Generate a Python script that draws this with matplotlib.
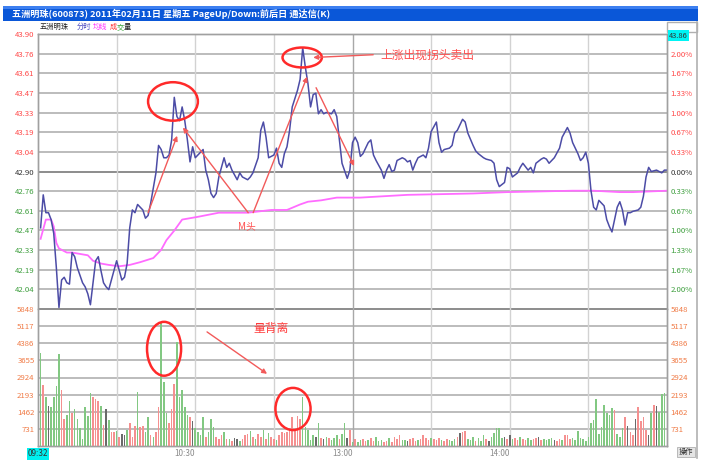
import matplotlib.pyplot as plt
from matplotlib.patches import Ellipse, Rectangle
from matplotlib.lines import Line2D

plt.rcParams['font.family'] = ['Noto Sans CJK SC', 'DejaVu Sans']

# ---- data ----
title = "五洲明珠(600873) 2011年02月11日 星期五 PageUp/Down:前后日 通达信(K)"
prev_close = 42.90

price_labels = ["42.04", "42.19", "42.33", "42.47", "42.61", "42.76", "42.90",
                "43.04", "43.19", "43.33", "43.47", "43.61", "43.76", "43.90"]
pct_labels = ["2.00%", "1.67%", "1.33%", "1.00%", "0.67%", "0.33%", "0.00%",
              "0.33%", "0.67%", "1.00%", "1.33%", "1.67%", "2.00%"]
vol_labels = [731, 1462, 2193, 2924, 3655, 4386, 5117, 5848]
time_ticks = [60, 120, 180]
time_labels = ["10:30", "13:00", "14:00"]

# minute index (0 = 9:30, 120 = 11:30/13:00, 240 = 15:00)
price_t = [1, 2, 3, 4, 5, 6, 7, 8, 9, 10, 11, 12, 13, 14, 15, 17, 18, 19, 20, 21,
           22, 23, 24, 25, 26, 27, 29, 30, 31, 32, 33, 34, 35, 36, 37, 38, 40, 41, 42, 43,
           45, 46, 47, 48, 49, 50, 51, 52, 53, 54, 55, 56, 57, 58, 59, 60, 61, 63, 64, 65,
           66, 67, 68, 69, 71, 72, 73, 74, 76, 77, 78, 80, 81, 82, 84, 85, 86, 87, 88, 90,
           91, 92, 93, 94, 95, 96, 97, 99, 100, 101, 102, 103, 104, 105, 106, 107, 108, 109, 110, 112,
           113, 114, 115, 116, 118, 119, 120,
           121, 122, 123, 124, 126, 127, 128, 129, 131, 132, 133, 134, 135, 136, 137, 139, 140, 141, 142, 143,
           144, 145, 147, 148, 149, 150, 152, 153, 154, 155, 157, 158, 159, 160, 162, 163, 164, 166, 167, 168,
           170, 171, 173, 174, 175, 176, 178, 179, 180, 181, 183, 184, 185, 187, 188, 189, 190, 192, 193, 194,
           195, 197, 199, 200, 202, 203, 204, 206, 207, 208, 209, 210, 211, 212, 213, 214, 216, 217, 218, 219,
           220, 221, 222, 223, 224, 225, 226, 227, 229, 230, 231, 232, 233, 234, 236, 237, 238, 239, 240]
price_v = [42.49, 42.73, 42.60, 42.60, 42.55, 42.45, 42.20, 41.91, 42.11, 42.13, 42.09, 42.08, 42.31, 42.28, 42.20, 42.09, 42.06, 42.01, 41.93, 42.09,
           42.25, 42.28, 42.18, 42.09, 42.06, 42.04, 42.18, 42.25, 42.18, 42.11, 42.13, 42.23, 42.49, 42.62, 42.60, 42.66, 42.62, 42.56, 42.58, 42.67,
           42.89, 43.09, 43.06, 43.00, 43.00, 43.02, 43.13, 43.44, 43.30, 43.27, 43.37, 43.27, 43.13, 42.97, 43.08, 43.00, 43.02, 43.06, 42.91, 42.84,
           42.74, 42.71, 42.74, 42.86, 43.00, 42.93, 42.96, 42.91, 42.84, 42.89, 42.86, 42.84, 42.86, 42.89, 43.00, 43.20, 43.26, 43.15, 43.00, 43.02,
           43.07, 42.96, 42.93, 43.03, 43.08, 43.20, 43.37, 43.49, 43.57, 43.80, 43.66, 43.54, 43.37, 43.46, 43.47, 43.32, 43.35, 43.32, 43.33, 43.32,
           43.35, 43.30, 43.13, 42.96, 42.85, 42.91, 43.11,
           43.15, 43.11, 43.01, 43.03, 43.11, 43.13, 43.02, 42.98, 42.91, 42.85, 42.91, 42.95, 42.90, 42.91, 42.98, 43.00, 42.99, 42.97, 42.98, 42.91,
           42.96, 43.00, 43.02, 43.00, 43.07, 43.19, 43.26, 43.11, 43.04, 43.06, 43.07, 43.09, 43.18, 43.20, 43.28, 43.26, 43.18, 43.09, 43.05, 43.03,
           43.00, 42.99, 42.98, 42.96, 42.84, 42.79, 42.82, 42.93, 42.92, 42.86, 42.89, 42.93, 42.96, 42.91, 42.93, 42.89, 42.96, 42.99, 43.00, 42.99,
           42.96, 43.00, 43.07, 43.15, 43.22, 43.18, 43.11, 43.03, 42.98, 43.00, 43.04, 42.96, 42.76, 42.64, 42.62, 42.69, 42.65, 42.55, 42.50, 42.46,
           42.55, 42.64, 42.68, 42.62, 42.51, 42.60, 42.60, 42.61, 42.62, 42.64, 42.72, 42.86, 42.93, 42.90, 42.91, 42.90, 42.89, 42.91, 42.91]

avg_t = [1, 3, 5, 6, 7, 8, 11, 13, 16, 19, 21, 24, 27, 31, 35, 39, 44, 47, 49, 52,
         55, 61, 69, 80, 89, 95, 100, 103, 108, 114, 123, 141, 166, 179, 204, 212, 222, 227, 240]
avg_v = [42.41, 42.55, 42.55, 42.50, 42.38, 42.34, 42.31, 42.31, 42.30, 42.29,
         42.25, 42.23, 42.22, 42.21, 42.22, 42.24, 42.27, 42.33, 42.40, 42.47,
         42.55, 42.57, 42.60, 42.60, 42.62, 42.62, 42.66, 42.68, 42.69, 42.71,
         42.71, 42.73, 42.74, 42.75, 42.76, 42.76, 42.75, 42.75, 42.76]

# one bar per minute, starting 9:31
vol = [3990, 2600, 2100, 1720, 1680, 2080, 2560, 3930, 2390, 1140,
       1330, 1900, 1400, 1570, 1140, 760, 300, 1680, 1280, 2250,
       2080, 2020, 1900, 1700, 900, 1570, 1100, 600, 600, 650,
       400, 500, 450, 700, 1000, 400, 850, 2320, 830, 850,
       600, 1250, 450, 400, 600, 1680, 5260, 2750, 1400, 1000,
       1560, 2650, 4460, 2110, 2390, 1680, 1330, 1250, 1080, 750,
       600, 450, 1250, 400, 600, 1140, 800, 400, 300, 450,
       600, 300, 300, 200, 350, 300, 200, 300, 450, 500,
       650, 400, 300, 500, 400, 700, 300, 550, 400, 300,
       250, 450, 600, 550, 600, 700, 1250, 700, 1280, 1150,
       2110, 800, 700, 250, 450, 400, 1000, 350, 300, 400,
       350, 250, 350, 450, 300, 500, 1000, 350, 700, 150,
       300, 150, 250, 300, 200, 250, 350, 200, 400, 200,
       250, 150, 200, 350, 150, 400, 300, 450, 250, 250,
       200, 300, 350, 200, 250, 300, 450, 350, 250, 350,
       300, 250, 350, 250, 200, 300, 250, 200, 300, 400,
       570, 600, 650, 300, 250, 400, 200, 350, 200, 450,
       300, 200, 400, 550, 780, 750, 350, 400, 300, 450,
       300, 350, 250, 400, 300, 250, 350, 250, 300, 350,
       400, 250, 300, 250, 300, 350, 250, 200, 300, 250,
       450, 450, 300, 350, 250, 650, 350, 300, 200, 400,
       970, 1100, 2010, 500, 800, 1750, 1400, 1330, 1620, 1540,
       500, 380, 750, 1250, 850, 600, 450, 1150, 1680, 1050,
       1250, 700, 450, 1400, 1750, 1700, 1450, 2230, 2250]
vol_dir = ("grgkggggrr" "ggrggggggg" "rrrgrkgrrg" "rkkgrrrgrr" "ggrgrrgggr"
           "rrgggggrkg" "gggrgggrrr" "grgrkkgrrr" "grgrrgrgrr" "grrrrrrrrr"
           "gggggkgrkg" "rgggrggkrg" "rggrrgrrgg" "grrgrrrrgg" "krrrgrrrrg"
           "rrrgrrgggr" "krrgggrggg" "rkgggggkrk" "grrgrrggrr" "krggggkrrg"
           "rrrggggggg" "gggggggggr" "gggrkrrkrr" "rrkgrkggg")

RED, GREEN, GRAY = '#ff4848', '#3d9e3d', '#333333'
bar_colors = {'r': '#f59090', 'g': '#82c882', 'k': '#6a6a6a'}
GRID = '#bcbcbc'

fig = plt.figure(figsize=(7.14, 4.66), dpi=100)
W, H = 714, 466

# title bar
fig.add_artist(Rectangle((3 / W, 1 - 21 / H), 695 / W, 15 / H, transform=fig.transFigure,
                         facecolor='#0a57d8', edgecolor='none'))
fig.add_artist(Rectangle((3 / W, 1 - 9 / H), 695 / W, 3 / H, transform=fig.transFigure,
                         facecolor='#3c7ff0', edgecolor='none'))
fig.text(12 / W, 1 - 13.5 / H, title, color='white', fontsize=6.6, fontweight='bold',
         va='center', ha='left')

ax_p = fig.add_axes([38 / W, 157 / H, 629 / W, 275 / H])
ax_v = fig.add_axes([38 / W, 20 / H, 629 / W, 137 / H], sharex=ax_p)

levels = [prev_close * (1 + k / 300) for k in range(-7, 8)]
ax_p.set_xlim(0, 240)
ax_p.set_ylim(levels[0], levels[-1])
ax_v.set_ylim(0, 5848)

for k, lv in zip(range(-7, 8), levels):
    ax_p.axhline(lv, color='#8c8c8c' if k in (0, -7) else GRID, lw=1.4, zorder=1)
for v in vol_labels:
    ax_v.axhline(v, color='#8c8c8c' if v == vol_labels[-1] else GRID, lw=1.4, zorder=1)
for t in range(30, 240, 30):
    for ax in (ax_p, ax_v):
        ax.axvline(t, color='#a8a8a8' if t == 120 else '#d2d2d2', lw=1.0, zorder=1)

ax_p.plot(avg_t, avg_v, color='#ff6cff', lw=1.3, zorder=3)
ax_p.plot(price_t, price_v, color='#4c4ca6', lw=1.1, zorder=4)

bar_t = [i + 1 for i in range(len(vol))]
ax_v.bar(bar_t, vol, width=0.6, color=[bar_colors[c] for c in vol_dir], zorder=3)

# axis labels
lab_colors = [GREEN] * 6 + [GRAY] + [RED] * 7
ax_p.set_yticks(levels[1:], price_labels)
for lab, c in zip(ax_p.get_yticklabels(), lab_colors):
    lab.set_color(c)
ax_pr = ax_p.twinx()
ax_pr.set_ylim(ax_p.get_ylim())
ax_pr.set_yticks(levels[1:-1], pct_labels)
for lab, c in zip(ax_pr.get_yticklabels(), lab_colors[:-1]):
    lab.set_color(c)

ax_v.set_yticks(vol_labels, [str(v) for v in vol_labels])
ax_vr = ax_v.twinx()
ax_vr.set_ylim(ax_v.get_ylim())
ax_vr.set_yticks(vol_labels, [str(v) for v in vol_labels])
for ax in (ax_v, ax_vr):
    for lab in ax.get_yticklabels():
        lab.set_color('#f07a45')

for ax in (ax_p, ax_pr, ax_v, ax_vr):
    ax.tick_params(axis='y', length=0, labelsize=5.6, pad=2.5)
    ax.tick_params(axis='x', length=0, labelbottom=False)
    for s in ax.spines.values():
        s.set_color('#a0a0a0')
        s.set_linewidth(1.0)
ax_p.spines['bottom'].set_visible(False)
ax_pr.spines['bottom'].set_visible(False)
ax_v.spines['top'].set_visible(False)
ax_vr.spines['top'].set_visible(False)

for t, lab in zip(time_ticks, time_labels):
    ax_v.text(t, -0.025, lab, transform=ax_v.get_xaxis_transform(), ha='right', va='top',
              fontsize=5.8, color='#8a8a8a')
ax_v.text(0, -0.025, "09:32", transform=ax_v.get_xaxis_transform(), ha='center', va='top',
          fontsize=5.8, color='#333333',
          bbox=dict(boxstyle='square,pad=0.15', facecolor='#00f0f0', edgecolor='none'))

# legend row
legend_items = [("五洲明珠", 40, '#222222'), ("分时", 77, '#4a4ac0'), ("均线", 93, '#ff30ff'),
                ("成", 110, '#ff3030'), ("交", 117, '#30a030'), ("量", 124, '#222222')]
for txt, x, c in legend_items:
    fig.text(x / W, 1 - 27 / H, txt, fontsize=5.2, color=c, va='center')

# right column frame and boxes
fig.add_artist(Line2D([697 / W, 697 / W], [1 - 458 / H, 1 - 22 / H], transform=fig.transFigure,
                      color='#b0b0b0', lw=1.2))
fig.add_artist(Rectangle((667 / W, 1 - 32 / H), 30 / W, 10 / H, transform=fig.transFigure,
                         facecolor='white', edgecolor='#b0b0b0', lw=1.0))
fig.text(669 / W, 1 - 35.5 / H, "43.86", fontsize=5.4, color='#333333', va='center',
         bbox=dict(boxstyle='square,pad=0.2', facecolor='#00f4f4', edgecolor='none'))
fig.text(686 / W, 1 - 452 / H, "操作", fontsize=5.2, color='#333333', va='center', ha='center',
         bbox=dict(boxstyle='square,pad=0.2', facecolor='#e4e4e4', edgecolor='#b0b0b0', lw=0.6))

# annotations
ANN = '#ff2a2a'
ARR = '#f25a5a'
ax_p.add_patch(Ellipse((51.5, 43.41), 19.0, 0.28, fill=False, edgecolor=ANN, lw=1.8, zorder=6))
ax_p.add_patch(Ellipse((100.8, 43.73), 15.0, 0.145, fill=False, edgecolor=ANN, lw=1.8, zorder=6))
ax_v.add_patch(Ellipse((48.1, 4150), 13.0, 2300, fill=False, edgecolor=ANN, lw=1.8, zorder=6))
ax_v.add_patch(Ellipse((97.3, 1580), 13.4, 1800, fill=False, edgecolor=ANN, lw=1.8, zorder=6))

arrow = dict(arrowstyle='-|>', color=ARR, lw=1.0, mutation_scale=7, shrinkA=0, shrinkB=0)
for start, end in [((42.0, 42.60), (53.1, 43.16)),
                   ((80.2, 42.60), (55.3, 43.22)),
                   ((82.1, 42.60), (102.7, 43.59)),
                   ((106.1, 43.51), (120.6, 42.94)),
                   ((127.9, 43.75), (105.0, 43.73))]:
    ax_p.annotate('', xy=end, xytext=start, arrowprops=arrow, zorder=7)
ax_v.annotate('', xy=(87.4, 3080), xytext=(64.5, 4870), arrowprops=arrow, zorder=7)

ax_p.text(130.5, 43.75, "上涨出现拐头卖出", color='#ff5050', fontsize=8.5, va='center', ha='left')
ax_p.text(79.8, 42.50, "M头", color='#ff5050', fontsize=7, va='center', ha='center')
ax_v.text(88.9, 5000, "量背离", color='#ff3a3a', fontsize=8.5, va='center', ha='center')

fig.savefig("out.png", dpi=100)
